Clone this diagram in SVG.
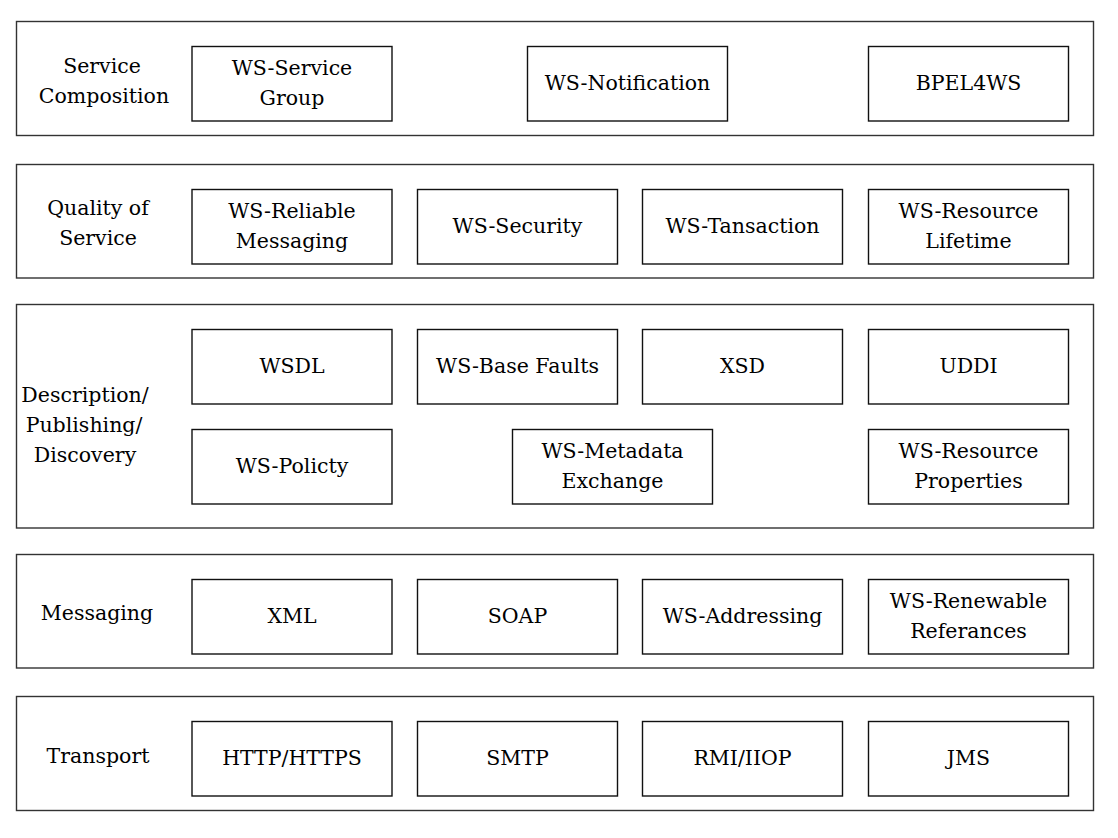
<svg xmlns="http://www.w3.org/2000/svg" width="1118" height="838" viewBox="0 0 1118 838">
<style>
.layer{fill:#fff;stroke:#333;stroke-width:1.4}
.box{fill:#fff;stroke:#111;stroke-width:1.4}
text{font-family:"DejaVu Serif","Liberation Serif",serif;font-size:20.5px;fill:#000;text-anchor:middle}
</style>
<rect width="1118" height="838" fill="#fff"/>
<g id="layer-composition">
<rect class="layer" x="16.5" y="21.5" width="1077" height="114"/>
<text x="102" y="73">Service</text><text x="104" y="103">Composition</text>
</g>
<g id="ws-service-group"><rect class="box" x="192" y="46.5" width="200" height="74.5"/><text x="292" y="75">WS-Service</text><text x="292" y="105">Group</text></g>
<g id="ws-notification"><rect class="box" x="527.5" y="46.5" width="200" height="74.5"/><text x="627.5" y="90">WS-Notification</text></g>
<g id="bpel4ws"><rect class="box" x="868.5" y="46.5" width="200" height="74.5"/><text x="968.5" y="90">BPEL4WS</text></g>

<g id="layer-qos">
<rect class="layer" x="16.5" y="164.5" width="1077" height="113.5"/>
<text x="98" y="215">Quality of</text><text x="98" y="245">Service</text>
</g>
<g id="ws-reliable"><rect class="box" x="192" y="189.5" width="200" height="74.5"/><text x="292" y="218">WS-Reliable</text><text x="292" y="248">Messaging</text></g>
<g id="ws-security"><rect class="box" x="417.5" y="189.5" width="200" height="74.5"/><text x="517.5" y="233">WS-Security</text></g>
<g id="ws-transaction"><rect class="box" x="642.5" y="189.5" width="200" height="74.5"/><text x="742.5" y="233">WS-Tansaction</text></g>
<g id="ws-resource-lifetime"><rect class="box" x="868.5" y="189.5" width="200" height="74.5"/><text x="968.5" y="218">WS-Resource</text><text x="968.5" y="248">Lifetime</text></g>

<g id="layer-description">
<rect class="layer" x="16.5" y="304.5" width="1077" height="223.5"/>
<text x="85" y="402">Description/</text><text x="84" y="432">Publishing/</text><text x="85" y="462">Discovery</text>
</g>
<g id="wsdl"><rect class="box" x="192" y="329.5" width="200" height="74.5"/><text x="292" y="373">WSDL</text></g>
<g id="ws-base-faults"><rect class="box" x="417.5" y="329.5" width="200" height="74.5"/><text x="517.5" y="373">WS-Base Faults</text></g>
<g id="xsd"><rect class="box" x="642.5" y="329.5" width="200" height="74.5"/><text x="742.5" y="373">XSD</text></g>
<g id="uddi"><rect class="box" x="868.5" y="329.5" width="200" height="74.5"/><text x="968.5" y="373">UDDI</text></g>
<g id="ws-policy"><rect class="box" x="192" y="429.5" width="200" height="74.5"/><text x="292" y="473">WS-Policty</text></g>
<g id="ws-metadata"><rect class="box" x="512.5" y="429.5" width="200" height="74.5"/><text x="612.5" y="458">WS-Metadata</text><text x="612.5" y="488">Exchange</text></g>
<g id="ws-resource-properties"><rect class="box" x="868.5" y="429.5" width="200" height="74.5"/><text x="968.5" y="458">WS-Resource</text><text x="968.5" y="488">Properties</text></g>

<g id="layer-messaging">
<rect class="layer" x="16.5" y="554.5" width="1077" height="113.5"/>
<text x="97" y="620">Messaging</text>
</g>
<g id="xml"><rect class="box" x="192" y="579.5" width="200" height="74.5"/><text x="292" y="623">XML</text></g>
<g id="soap"><rect class="box" x="417.5" y="579.5" width="200" height="74.5"/><text x="517.5" y="623">SOAP</text></g>
<g id="ws-addressing"><rect class="box" x="642.5" y="579.5" width="200" height="74.5"/><text x="742.5" y="623">WS-Addressing</text></g>
<g id="ws-renewable"><rect class="box" x="868.5" y="579.5" width="200" height="74.5"/><text x="968.5" y="608">WS-Renewable</text><text x="968.5" y="638">Referances</text></g>

<g id="layer-transport">
<rect class="layer" x="16.5" y="696.5" width="1077" height="114"/>
<text x="98" y="763">Transport</text>
</g>
<g id="http"><rect class="box" x="192" y="721.5" width="200" height="74.5"/><text x="292" y="765">HTTP/HTTPS</text></g>
<g id="smtp"><rect class="box" x="417.5" y="721.5" width="200" height="74.5"/><text x="517.5" y="765">SMTP</text></g>
<g id="rmi-iiop"><rect class="box" x="642.5" y="721.5" width="200" height="74.5"/><text x="742.5" y="765">RMI/IIOP</text></g>
<g id="jms"><rect class="box" x="868.5" y="721.5" width="200" height="74.5"/><text x="968.5" y="765">JMS</text></g>
<g id="connectors"/>
</svg>
